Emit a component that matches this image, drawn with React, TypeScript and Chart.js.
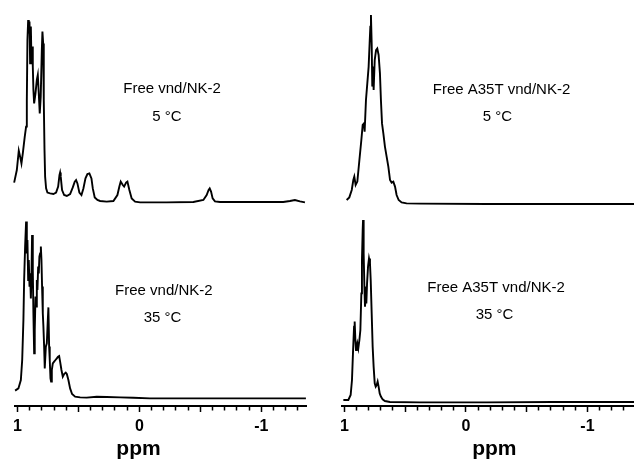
import React, { useEffect, useRef } from 'react';
import { Chart, registerables } from 'chart.js';

Chart.register(...registerables);

// ---- Data (chemical shift in ppm, relative intensity 0-100) ----
// Free vnd/NK-2, 5 °C
const ppmFree5 = [1.027, 1.005, 0.989, 0.978, 0.967, 0.956, 0.94, 0.929, 0.923, 0.918, 0.912, 0.907, 0.901, 0.896, 0.89, 0.885, 0.88, 0.874, 0.869, 0.863, 0.852, 0.841, 0.833, 0.825, 0.817, 0.809, 0.8, 0.795, 0.789, 0.784, 0.778, 0.773, 0.765, 0.754, 0.732, 0.705, 0.683, 0.666, 0.655, 0.65, 0.645, 0.634, 0.617, 0.595, 0.568, 0.546, 0.53, 0.519, 0.508, 0.492, 0.475, 0.459, 0.442, 0.426, 0.41, 0.393, 0.382, 0.366, 0.344, 0.322, 0.268, 0.213, 0.18, 0.164, 0.153, 0.136, 0.125, 0.109, 0.098, 0.082, 0.063, 0.035, -0.006, -0.224, -0.443, -0.525, -0.552, -0.568, -0.577, -0.588, -0.601, -0.62, -0.661, -0.907, -1.18, -1.235, -1.276, -1.317, -1.358];
const intFree5 = [11.2, 17.5, 27.2, 24.2, 20.8, 25.8, 34.2, 39.2, 52.5, 82.5, 92.5, 85.8, 91.7, 70.8, 89.2, 72.5, 79.2, 69.2, 57.5, 50.8, 55.8, 62.5, 65.0, 55.8, 45.8, 54.2, 77.5, 86.7, 80.8, 52.5, 27.5, 14.2, 8.3, 6.2, 5.8, 5.5, 6.2, 9.2, 15.0, 16.2, 14.2, 7.5, 5.0, 4.5, 5.5, 8.8, 11.7, 12.5, 10.8, 6.2, 5.0, 8.3, 13.3, 15.5, 15.8, 13.3, 8.3, 3.8, 2.5, 2.0, 1.7, 2.0, 5.0, 9.2, 11.7, 10.0, 9.2, 11.2, 11.7, 7.5, 3.3, 1.7, 1.3, 1.3, 1.5, 2.5, 5.0, 7.5, 8.3, 6.7, 3.3, 1.8, 1.5, 1.5, 1.5, 2.0, 2.5, 1.8, 1.3];

// Free A35T vnd/NK-2, 5 °C
const ppmA35T5 = [0.981, 0.959, 0.939, 0.926, 0.918, 0.907, 0.893, 0.876, 0.86, 0.849, 0.838, 0.833, 0.822, 0.811, 0.8, 0.792, 0.786, 0.781, 0.775, 0.77, 0.764, 0.759, 0.75, 0.739, 0.729, 0.718, 0.707, 0.699, 0.69, 0.679, 0.666, 0.652, 0.638, 0.624, 0.611, 0.597, 0.583, 0.57, 0.553, 0.529, 0.488, 0.378, -0.17, -0.717, -1.383];
const intA35T5 = [2.5, 3.8, 7.5, 12.5, 14.2, 10.0, 11.7, 22.5, 32.5, 40.0, 40.8, 36.7, 52.5, 60.8, 69.2, 80.8, 89.2, 95.0, 80.8, 59.2, 69.2, 57.5, 72.5, 77.5, 78.3, 75.0, 65.8, 52.5, 40.8, 35.8, 29.2, 24.2, 19.2, 12.5, 11.2, 11.7, 9.2, 5.0, 2.5, 1.3, 0.8, 0.7, 0.5, 0.5, 0.5];

// Free vnd/NK-2, 35 °C
const ppmFree35 = [1.019, 0.992, 0.972, 0.961, 0.951, 0.945, 0.937, 0.929, 0.923, 0.918, 0.912, 0.907, 0.901, 0.896, 0.89, 0.885, 0.88, 0.874, 0.869, 0.863, 0.858, 0.852, 0.847, 0.841, 0.836, 0.83, 0.825, 0.82, 0.814, 0.808, 0.803, 0.798, 0.792, 0.787, 0.781, 0.776, 0.767, 0.759, 0.751, 0.746, 0.74, 0.735, 0.729, 0.724, 0.718, 0.71, 0.699, 0.688, 0.677, 0.667, 0.658, 0.65, 0.639, 0.628, 0.617, 0.604, 0.595, 0.582, 0.568, 0.552, 0.527, 0.486, 0.432, 0.35, 0.268, 0.158, 0.049, -0.087, -0.224, -0.497, -0.77, -1.043, -1.366];
const intFree35 = [7.7, 8.8, 13.0, 23.0, 43.0, 63.0, 79.7, 92.2, 76.3, 83.0, 63.0, 73.0, 59.7, 66.3, 53.8, 64.7, 85.5, 68.0, 46.3, 26.3, 38.0, 54.7, 49.7, 63.0, 58.0, 69.7, 66.3, 74.7, 76.3, 79.7, 73.0, 59.7, 46.3, 39.7, 29.7, 18.8, 29.7, 31.3, 43.0, 49.3, 29.7, 23.0, 13.8, 12.2, 18.0, 21.3, 22.2, 23.0, 23.8, 24.7, 25.0, 22.2, 18.0, 14.7, 16.0, 16.7, 16.0, 13.0, 8.8, 6.0, 4.7, 4.3, 4.2, 4.6, 4.5, 4.3, 4.1, 3.8, 3.8, 3.8, 3.8, 3.8, 3.8];

// Free A35T vnd/NK-2, 35 °C
const ppmA35T35 = [1.008, 0.967, 0.948, 0.937, 0.929, 0.92, 0.915, 0.909, 0.904, 0.898, 0.893, 0.885, 0.876, 0.868, 0.86, 0.855, 0.849, 0.846, 0.841, 0.835, 0.83, 0.824, 0.819, 0.813, 0.805, 0.797, 0.789, 0.783, 0.775, 0.767, 0.759, 0.75, 0.742, 0.734, 0.726, 0.718, 0.709, 0.699, 0.685, 0.666, 0.625, 0.378, -0.17, -0.717, -1.383];
const intA35T35 = [3.0, 3.0, 5.5, 13.0, 26.3, 39.7, 42.2, 33.0, 28.0, 29.7, 31.3, 28.8, 33.0, 38.0, 56.3, 73.0, 88.0, 93.0, 76.3, 59.7, 49.7, 54.7, 51.3, 61.3, 69.7, 73.8, 71.3, 63.0, 46.3, 29.7, 19.7, 11.3, 9.7, 10.5, 12.2, 9.7, 6.3, 4.7, 3.3, 2.5, 2.0, 1.8, 1.8, 2.0, 2.0];

// ---- Text ----
const panelTitles = ['Free vnd/NK-2', 'Free A35T vnd/NK-2'];
const temperatures = ['5 °C', '35 °C'];
const tickLabelValues = [1, 0, -1];
const axisTitle = 'ppm';

const FONT = '"Liberation Sans", Arial, Helvetica, sans-serif';

type TextItem = { text: string; x: number; y: number; font: string; baseline?: CanvasTextBaseline };

const textPlugin = {
  id: 'panelText',
  afterDraw(chart: any, _args: any, opts: any) {
    const { ctx, scales } = chart;
    const xs = scales.x;
    const ys = scales.y;
    ctx.save();
    ctx.fillStyle = '#000';
    ctx.textAlign = 'center';
    for (const t of (opts.items || []) as TextItem[]) {
      ctx.font = t.font;
      ctx.textBaseline = t.baseline || 'middle';
      ctx.fillText(t.text, xs.getPixelForValue(t.x), ys.getPixelForValue(t.y));
    }
    ctx.restore();
  },
};

type Panel = {
  left: number;
  top: number;
  width: number;
  height: number;
  padding: { left: number; right: number; top: number; bottom: number };
  xMin: number;
  xMax: number;
  ppm: number[];
  intensity: number[];
  showAxis: boolean;
  items: TextItem[];
};

const titleFont = `15px ${FONT}`;
const tempFont = `15px ${FONT}`;
const ppmFont = `bold 21px ${FONT}`;

const panels: Panel[] = [
  {
    left: 0, top: 0, width: 317, height: 215,
    padding: { left: 15, right: 10.6, top: 5, bottom: 10 },
    xMin: -1.37, xMax: 1.02, ppm: ppmFree5, intensity: intFree5, showAxis: false,
    items: [
      { text: panelTitles[0], x: -0.268, y: 58.2, font: titleFont },
      { text: temperatures[0], x: -0.225, y: 44.2, font: tempFont },
    ],
  },
  {
    left: 317, top: 0, width: 317, height: 215,
    padding: { left: 24.9, right: 0, top: 5, bottom: 10 },
    xMin: -1.383, xMax: 1.02, ppm: ppmA35T5, intensity: intA35T5, showAxis: false,
    items: [
      { text: panelTitles[1], x: -0.293, y: 57.7, font: titleFont },
      { text: temperatures[0], x: -0.259, y: 44.2, font: tempFont },
    ],
  },
  {
    left: 0, top: 200, width: 317, height: 259,
    padding: { left: 15, right: 10.6, top: 6, bottom: 0 },
    xMin: -1.37, xMax: 1.02, ppm: ppmFree35, intensity: intFree35, showAxis: true,
    items: [
      { text: panelTitles[0], x: -0.201, y: 57.6, font: titleFont },
      { text: temperatures[1], x: -0.19, y: 43.9, font: tempFont },
      { text: axisTitle, x: 0.007, y: -24.5, font: ppmFont, baseline: 'alphabetic' },
    ],
  },
  {
    left: 317, top: 200, width: 317, height: 259,
    padding: { left: 24.9, right: 0, top: 6, bottom: 0 },
    xMin: -1.383, xMax: 1.02, ppm: ppmA35T35, intensity: intA35T35, showAxis: true,
    items: [
      { text: panelTitles[1], x: -0.248, y: 59.0, font: titleFont },
      { text: temperatures[1], x: -0.236, y: 45.4, font: tempFont },
      { text: axisTitle, x: -0.234, y: -24.5, font: ppmFont, baseline: 'alphabetic' },
    ],
  },
];

const near = (v: number, step: number) => Math.abs(v / step - Math.round(v / step)) < 1e-6;

function SpectrumPanel({ panel }: { panel: Panel }) {
  const ref = useRef<HTMLCanvasElement | null>(null);
  useEffect(() => {
    if (!ref.current) return;
    const n = Math.min(panel.ppm.length, panel.intensity.length);
    const points = [];
    for (let i = 0; i < n; i++) points.push({ x: panel.ppm[i], y: panel.intensity[i] });
    const xScale: any = {
      type: 'linear',
      reverse: true,
      min: panel.xMin,
      max: panel.xMax,
      display: panel.showAxis,
      border: { display: true, color: '#000', width: 2 },
      grid: {
        drawOnChartArea: false,
        drawTicks: true,
        tickLength: 6,
        tickColor: '#000',
        tickWidth: 1.5,
        tickBorderDash: (c: any) => (c && c.tick && near(c.tick.value, 0.5) ? [] : [3.5, 40]),
      },
      ticks: {
        stepSize: 0.1,
        includeBounds: false,
        autoSkip: false,
        maxRotation: 0,
        minRotation: 0,
        padding: 5,
        color: '#000',
        font: { family: FONT, size: 16, weight: 'bold' },
        callback: (v: any) => {
          const num = Number(v);
          const r = Math.round(num);
          return Math.abs(num - r) < 1e-6 && tickLabelValues.includes(r) ? String(r) : '';
        },
      },
    };
    if (panel.showAxis) {
      xScale.afterFit = (scale: any) => {
        scale.height = 53;
      };
    }
    const chart = new Chart(ref.current, {
      type: 'scatter',
      data: {
        datasets: [
          {
            data: points,
            showLine: true,
            borderColor: '#000',
            backgroundColor: '#000',
            borderWidth: 1.9,
            pointRadius: 0,
            tension: 0,
            fill: false,
            clip: false,
          } as any,
        ],
      },
      options: {
        responsive: false,
        maintainAspectRatio: false,
        animation: false,
        events: [],
        layout: { padding: panel.padding },
        plugins: {
          legend: { display: false },
          tooltip: { enabled: false },
          panelText: { items: panel.items },
        } as any,
        scales: {
          x: xScale,
          y: { type: 'linear', min: 0, max: 100, display: false },
        },
      } as any,
      plugins: [textPlugin as any],
    });
    return () => chart.destroy();
  }, [panel]);
  return (
    <canvas
      ref={ref}
      width={panel.width}
      height={panel.height}
      style={{ position: 'absolute', left: panel.left, top: panel.top, width: panel.width, height: panel.height }}
    />
  );
}

export default function App() {
  return (
    <div style={{ position: 'fixed', left: 0, top: 0, width: 634, height: 459, background: '#fff', overflow: 'hidden' }}>
      {panels.map((p, i) => (
        <SpectrumPanel key={i} panel={p} />
      ))}
    </div>
  );
}
